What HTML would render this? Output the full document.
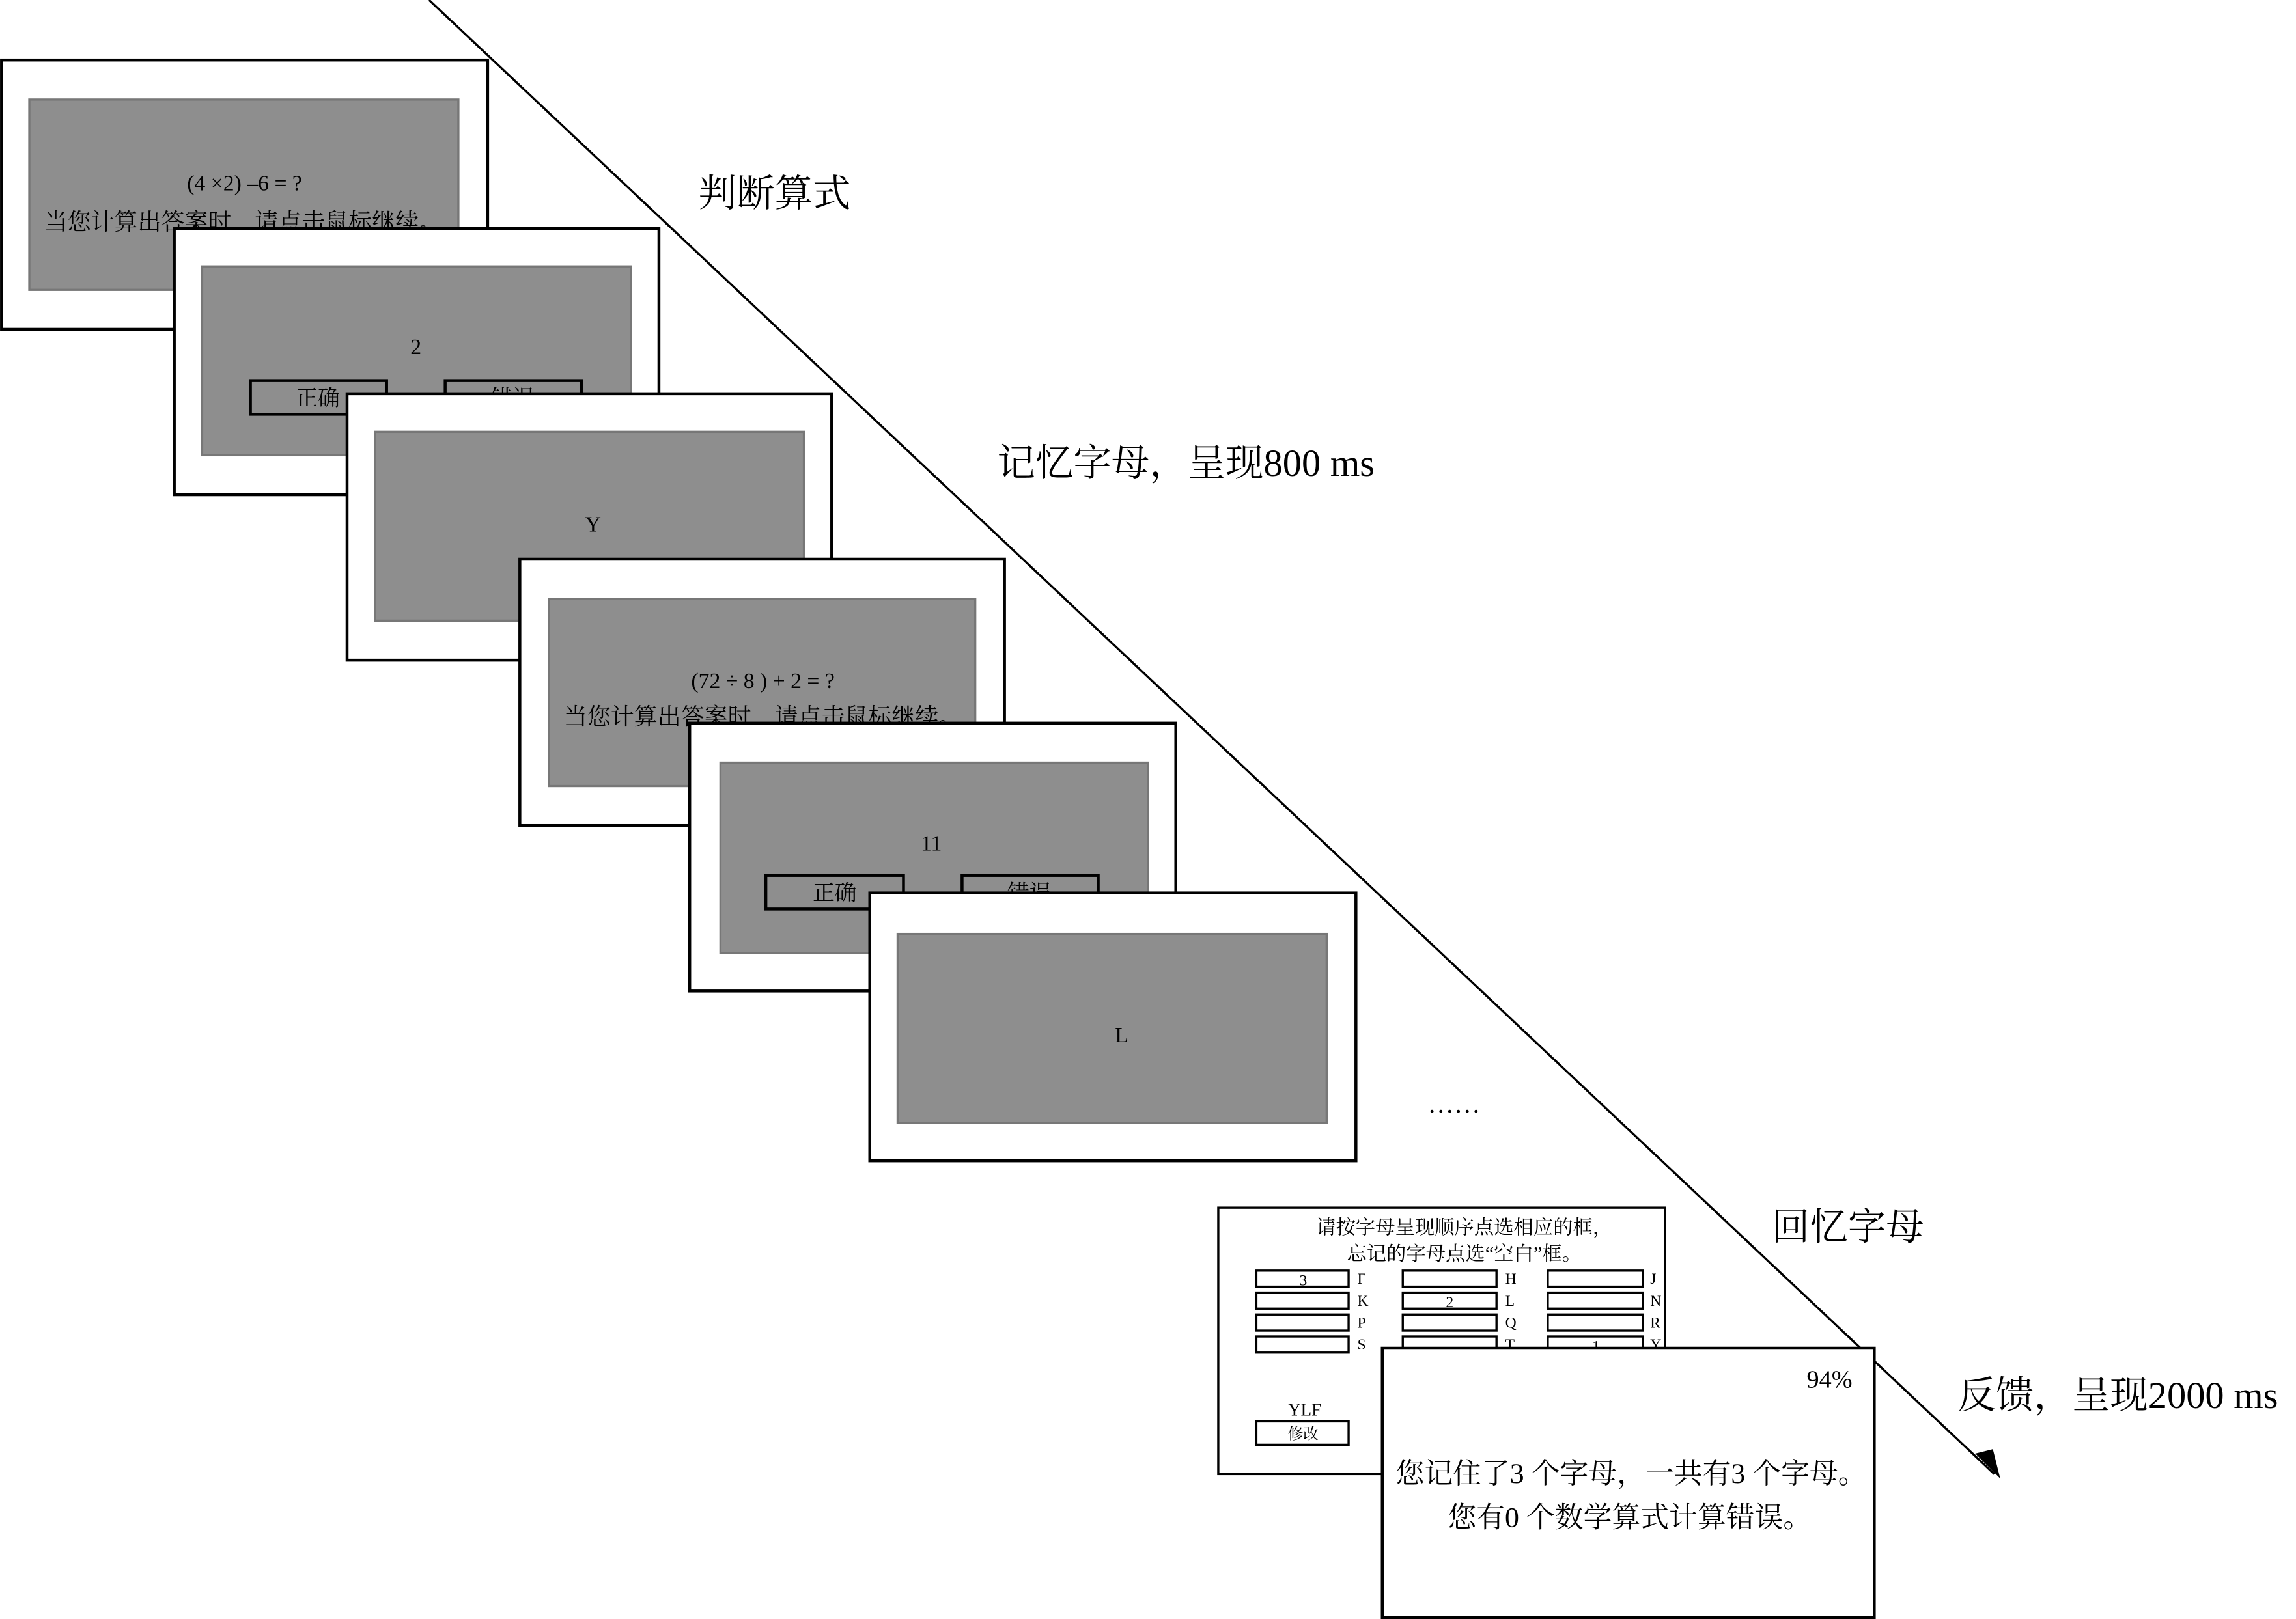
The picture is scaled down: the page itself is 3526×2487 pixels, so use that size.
<!DOCTYPE html>
<html><head><meta charset="utf-8"><style>html,body{margin:0;padding:0;background:#fff;}svg{display:block}</style></head>
<body>
<svg width="3526" height="2487" viewBox="0 0 1568 1106" xmlns="http://www.w3.org/2000/svg" font-family="'Liberation Serif','Noto Serif CJK SC',serif">
<defs><marker id="ah" markerWidth="10" markerHeight="10" refX="9" refY="5" orient="auto" markerUnits="userSpaceOnUse"><path d="M0,0 L10,5 L0,10 L3,5 Z" fill="#000"/></marker></defs>
<line x1="293" y1="0" x2="1362" y2="1007" stroke="#000" stroke-width="1.5"/>
<path d="M1349,993 L1366,1010 L1361,990 Z" fill="#000"/>

<g stroke-width="2">
<!-- F1 -->
<rect x="1" y="41" width="332" height="184" fill="#fff" stroke="#000"/>
<rect x="20" y="68" width="293" height="130" fill="#8e8e8e" stroke="#777" stroke-width="1.5"/>
<text x="167" y="130" font-size="15" text-anchor="middle">(4 ×2) –6 = ?</text>
<text x="166" y="157" font-size="16" text-anchor="middle">当您计算出答案时，请点击鼠标继续。</text>
<!-- F2 -->
<rect x="119" y="156" width="331" height="182" fill="#fff" stroke="#000"/>
<rect x="138" y="182" width="293" height="129" fill="#8e8e8e" stroke="#777" stroke-width="1.5"/>
<text x="284" y="242" font-size="15" text-anchor="middle">2</text>
<rect x="171" y="260" width="93" height="23" fill="none" stroke="#000"/>
<text x="217" y="277" font-size="15" text-anchor="middle">正确</text>
<rect x="304" y="260" width="93" height="23" fill="none" stroke="#000"/>
<text x="350" y="277" font-size="15" text-anchor="middle">错误</text>
<!-- F3 -->
<rect x="237" y="269" width="331" height="182" fill="#fff" stroke="#000"/>
<rect x="256" y="295" width="293" height="129" fill="#8e8e8e" stroke="#777" stroke-width="1.5"/>
<text x="405" y="363" font-size="15" text-anchor="middle">Y</text>
<!-- F4 -->
<rect x="355" y="382" width="331" height="182" fill="#fff" stroke="#000"/>
<rect x="375" y="409" width="291" height="128" fill="#8e8e8e" stroke="#777" stroke-width="1.5"/>
<text x="521" y="470" font-size="15" text-anchor="middle">(72 ÷ 8 ) + 2 = ?</text>
<text x="521" y="495" font-size="16" text-anchor="middle">当您计算出答案时，请点击鼠标继续。</text>
<!-- F5 -->
<rect x="471" y="494" width="332" height="183" fill="#fff" stroke="#000"/>
<rect x="492" y="521" width="292" height="130" fill="#8e8e8e" stroke="#777" stroke-width="1.5"/>
<text x="636" y="581" font-size="15" text-anchor="middle">11</text>
<rect x="523" y="598" width="94" height="23" fill="none" stroke="#000"/>
<text x="570" y="615" font-size="15" text-anchor="middle">正确</text>
<rect x="657" y="598" width="93" height="23" fill="none" stroke="#000"/>
<text x="703" y="615" font-size="15" text-anchor="middle">错误</text>
<!-- F6 -->
<rect x="594" y="610" width="332" height="183" fill="#fff" stroke="#000"/>
<rect x="613" y="638" width="293" height="129" fill="#8e8e8e" stroke="#777" stroke-width="1.5"/>
<text x="766" y="712" font-size="15" text-anchor="middle">L</text>
</g>
<text x="993" y="760" font-size="18" text-anchor="middle">……</text>

<!-- recall -->
<g stroke="#000" stroke-width="1.5" fill="#fff">
<rect x="832" y="825" width="305" height="182"/>
</g>
<text x="1000" y="843" font-size="13.5" text-anchor="middle">请按字母呈现顺序点选相应的框，</text>
<text x="1000" y="861" font-size="13.5" text-anchor="middle">忘记的字母点选“空白”框。</text>
<g stroke="#000" stroke-width="1.5" fill="none">
<rect x="858" y="868" width="63" height="11"/><rect x="858" y="883" width="63" height="11"/><rect x="858" y="898" width="63" height="11"/><rect x="858" y="913" width="63" height="11"/>
<rect x="958" y="868" width="64" height="11"/><rect x="958" y="883" width="64" height="11"/><rect x="958" y="898" width="64" height="11"/><rect x="958" y="913" width="64" height="11"/>
<rect x="1057" y="868" width="65" height="11"/><rect x="1057" y="883" width="65" height="11"/><rect x="1057" y="898" width="65" height="11"/><rect x="1057" y="913" width="65" height="11"/>
<rect x="858" y="971" width="63" height="16"/>
</g>
<g font-size="10.5">
<text x="890" y="878" text-anchor="middle">3</text><text x="990" y="893" text-anchor="middle">2</text><text x="1090" y="923" text-anchor="middle">1</text>
<text x="927" y="877">F</text><text x="927" y="892">K</text><text x="927" y="907">P</text><text x="927" y="922">S</text>
<text x="1028" y="877">H</text><text x="1028" y="892">L</text><text x="1028" y="907">Q</text><text x="1028" y="922">T</text>
<text x="1127" y="877">J</text><text x="1127" y="892">N</text><text x="1127" y="907">R</text><text x="1127" y="922">Y</text>
<text x="891" y="967" font-size="12" text-anchor="middle">YLF</text>
<text x="890" y="983" text-anchor="middle">修改</text>
</g>

<!-- feedback -->
<rect x="944" y="921" width="336" height="184" fill="#fff" stroke="#000" stroke-width="2"/>
<text x="1265" y="948" font-size="17" text-anchor="end">94%</text>
<text x="1114" y="1013" font-size="19.5" text-anchor="middle">您记住了3 个字母，一共有3 个字母。</text>
<text x="1113" y="1043" font-size="19.5" text-anchor="middle">您有0 个数学算式计算错误。</text>

<!-- labels -->
<g font-size="26">
<text x="477" y="141">判断算式</text>
<text x="681" y="325">记忆字母，呈现800 ms</text>
<text x="1210" y="847">回忆字母</text>
<text x="1337" y="962">反馈，呈现2000 ms</text>
</g>
</svg>
</body></html>
